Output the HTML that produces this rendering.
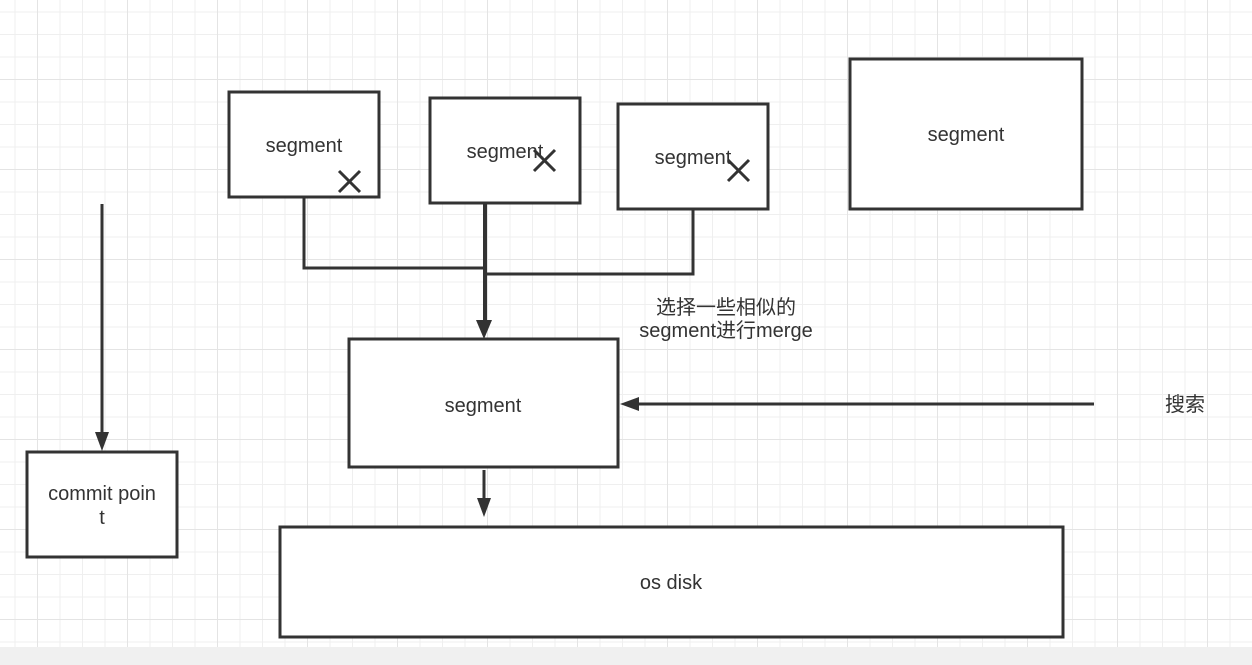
<!DOCTYPE html>
<html><head><meta charset="utf-8"><style>
html,body{margin:0;padding:0;background:#fff;}
svg{display:block;}
text{font-family:"Liberation Sans","Noto Sans CJK SC",sans-serif;font-size:20px;fill:#333;}
</style></head><body>
<svg width="1252" height="665" viewBox="0 0 1252 665" xmlns="http://www.w3.org/2000/svg">
<defs>
<pattern id="minor" x="14.5" y="11.5" width="22.5" height="22.5" patternUnits="userSpaceOnUse">
<path d="M0 0V22.5M0 0H22.5" stroke="#efefef" stroke-width="2" fill="none"/>
</pattern>
<pattern id="major" x="37" y="79" width="90" height="90" patternUnits="userSpaceOnUse">
<path d="M0 0V90M0 0H90" stroke="#e4e4e4" stroke-width="2" fill="none"/>
</pattern>
</defs>
<rect width="1252" height="647" fill="url(#minor)"/>
<rect width="1252" height="647" fill="url(#major)"/>
<rect y="647" width="1252" height="18" fill="#f0f0f0"/>
<g stroke="#333" stroke-width="3" fill="#fff">
<rect x="229" y="92" width="150" height="105"/>
<rect x="430" y="98" width="150" height="105"/>
<rect x="618" y="104" width="150" height="105"/>
<rect x="850" y="59" width="232" height="150"/>
<rect x="349" y="339" width="269" height="128"/>
<rect x="27" y="452" width="150" height="105"/>
<rect x="280" y="527" width="783" height="110"/>
</g>
<g stroke="#333" stroke-width="3" fill="none">
<path d="M304 197V268H484"/>
<path d="M693 209V274H484"/>
<path d="M485 203V322" stroke-width="4"/>
<path d="M102 204V435"/>
<path d="M1094 404H636"/>
<path d="M484 470V500"/>
<path d="M339 171L360 192M360 171L339 192"/>
<path d="M534 150L555 171M555 150L534 171"/>
<path d="M728 160L749 181M749 160L728 181"/>
</g>
<path d="M476 320L484 339L492 320Z" fill="#333"/>
<path d="M95 432L102 451L109 432Z" fill="#333"/>
<path d="M620 404L639 397L639 411Z" fill="#333"/>
<path d="M477 498L484 517L491 498Z" fill="#333"/>
<g text-anchor="middle">
<text x="304" y="152">segment</text>
<text x="505" y="158">segment</text>
<text x="693" y="164">segment</text>
<text x="966" y="141">segment</text>
<text x="483" y="412">segment</text>
<text x="102" y="500">commit poin</text>
<text x="102" y="524">t</text>
<text x="671" y="589">os disk</text>
<text x="726" y="314">选择一些相似的</text>
<text x="726" y="337">segment进行merge</text>
<text x="1185" y="411">搜索</text>
</g>
</svg>
</body></html>
